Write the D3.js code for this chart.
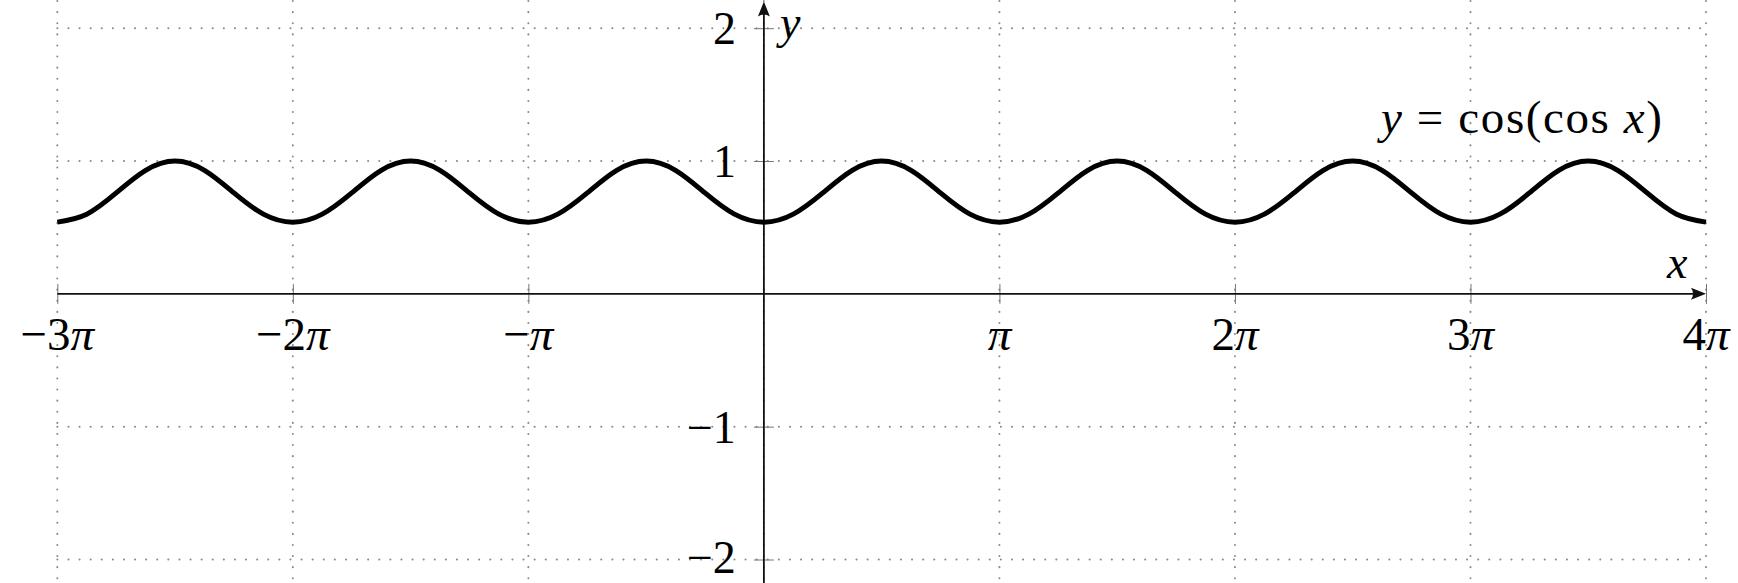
<!DOCTYPE html>
<html>
<head>
<meta charset="utf-8">
<script src="https://cdn.jsdelivr.net/npm/d3@7"></script>
<style>
  body { margin: 0; background: #fff; }
  svg { display: block; }
  text { font-family: "Liberation Serif", "DejaVu Serif", serif; fill: #000; }
</style>
</head>
<body>
<svg id="graph"></svg>
<script>
// x positions in units of pi/8
var xEighthPi = [-24,-23,-22,-21,-20,-19,-18,-17,-16,-15,-14,-13,-12,-11,-10,-9,-8,-7,-6,-5,-4,-3,-2,-1,
                 0,1,2,3,4,5,6,7,8,9,10,11,12,13,14,15,16,17,18,19,20,21,22,23,24,25,26,27,28,29,30,31,32];
// y values at those positions
var yValues = [0.54,0.60,0.76,0.93,1.00,0.93,0.76,0.60,
               0.54,0.60,0.76,0.93,1.00,0.93,0.76,0.60,
               0.54,0.60,0.76,0.93,1.00,0.93,0.76,0.60,
               0.54,0.60,0.76,0.93,1.00,0.93,0.76,0.60,
               0.54,0.60,0.76,0.93,1.00,0.93,0.76,0.60,
               0.54,0.60,0.76,0.93,1.00,0.93,0.76,0.60,
               0.54,0.60,0.76,0.93,1.00,0.93,0.76,0.60,
               0.54];

var xTickValues = [-3,-2,-1,0,1,2,3,4];          // multiples of pi
var xTickLabels = ["\u22123", "\u22122", "\u2212", "", "", "2", "3", "4"];
var yTickValues = [-2,-1,1,2];
var yTickLabels = ["\u22122", "\u22121", "1", "2"];
var curveLabel = ["y", " = cos(cos ", "x", ")"];

var screen = { width: 1738, height: 583 };

var svg = d3.select("#graph")
    .attr("width", screen.width)
    .attr("height", screen.height);

var xScale = d3.scaleLinear()
    .domain([-3 * Math.PI, 4 * Math.PI])
    .range([57.3, 1706]);
var yScale = d3.scaleLinear()
    .domain([-2, 2])
    .range([559.5, 28.2]);

var x0 = xScale(0), y0 = yScale(0);

// grid
var grid = svg.append("g");
grid.selectAll("line.v")
    .data(xTickValues)
    .enter()
    .append("line")
    .attr("x1", function(d){ return xScale(d * Math.PI); })
    .attr("x2", function(d){ return xScale(d * Math.PI); })
    .attr("y1", 1)
    .attr("y2", screen.height)
    .attr("stroke", "#8a8a8a")
    .attr("stroke-width", 2)
    .attr("stroke-linecap", "round")
    .attr("stroke-dasharray", "0.1 11");
grid.selectAll("line.h")
    .data([-2,-1,1,2])
    .enter()
    .append("line")
    .attr("x1", xScale.range()[0])
    .attr("x2", xScale.range()[1])
    .attr("y1", function(d){ return yScale(d); })
    .attr("y2", function(d){ return yScale(d); })
    .attr("stroke", "#8a8a8a")
    .attr("stroke-width", 2)
    .attr("stroke-linecap", "round")
    .attr("stroke-dasharray", "0.1 11");

// x axis
var xAxis = d3.axisBottom(xScale)
    .tickValues(xTickValues.filter(function(d){ return d != 0; }).map(function(d){ return d * Math.PI; }))
    .tickSize(10)
    .tickPadding(0)
    .tickFormat("");
var gx = svg.append("g")
    .attr("transform", "translate(0," + y0 + ")")
    .call(xAxis);
gx.select(".domain").remove();
gx.selectAll(".tick line")
    .attr("y1", -10)
    .attr("y2", 10)
    .attr("stroke", "#777")
    .attr("stroke-width", 1);

svg.append("line")
    .attr("x1", xScale.range()[0])
    .attr("x2", xScale.range()[1] - 4)
    .attr("y1", y0)
    .attr("y2", y0)
    .attr("stroke", "#111")
    .attr("stroke-width", 1.8);

var xLabels = svg.append("g");
xTickValues.forEach(function(d, i){
    if (d == 0) return;
    var t = xLabels.append("text")
        .attr("x", xScale(d * Math.PI))
        .attr("y", y0 + 56)
        .attr("text-anchor", "middle")
        .attr("font-size", 47);
    t.append("tspan").text(xTickLabels[i]);
    t.append("tspan").attr("font-style", "italic").text("\u03c0");
});

// y axis
var yAxis = d3.axisLeft(yScale)
    .tickValues(yTickValues)
    .tickSize(10)
    .tickFormat("");
var gy = svg.append("g")
    .attr("transform", "translate(" + x0 + ",0)")
    .call(yAxis);
gy.select(".domain").remove();
gy.selectAll(".tick line")
    .attr("x1", -10)
    .attr("x2", 10)
    .attr("stroke", "#777")
    .attr("stroke-width", 1);

svg.append("line")
    .attr("x1", x0)
    .attr("x2", x0)
    .attr("y1", screen.height)
    .attr("y2", 6)
    .attr("stroke", "#111")
    .attr("stroke-width", 1.8);

svg.append("g").selectAll("text")
    .data(yTickValues)
    .enter()
    .append("text")
    .attr("x", x0 - 28)
    .attr("y", function(d){ return yScale(d) + (d == -2 ? 13 : 16); })
    .attr("text-anchor", "end")
    .attr("font-size", 46)
    .text(function(d, i){ return yTickLabels[i]; });

// arrow heads
var arrow = d3.path();
var ax = xScale.range()[1];
arrow.moveTo(ax, y0);
arrow.lineTo(ax - 15, y0 - 6);
arrow.quadraticCurveTo(ax - 11, y0, ax - 15, y0 + 6);
arrow.closePath();
arrow.moveTo(x0, 1.5);
arrow.lineTo(x0 - 6, 16.5);
arrow.quadraticCurveTo(x0, 12.5, x0 + 6, 16.5);
arrow.closePath();
svg.append("path")
    .attr("d", arrow.toString())
    .attr("fill", "#111");

svg.append("text")
    .attr("x", 1667)
    .attr("y", 278)
    .attr("font-size", 46)
    .attr("font-style", "italic")
    .text("x");
svg.append("text")
    .attr("x", 780)
    .attr("y", 38)
    .attr("font-size", 46)
    .attr("font-style", "italic")
    .text("y");

// the curve
var points = xEighthPi.map(function(q, i){ return [q * Math.PI / 8, yValues[i]]; });
var line = d3.line()
    .x(function(d){ return xScale(d[0]); })
    .y(function(d){ return yScale(d[1]); })
    .curve(d3.curveNatural);
svg.append("path")
    .datum(points)
    .attr("d", line)
    .attr("fill", "none")
    .attr("stroke", "#000")
    .attr("stroke-width", 5)
    .attr("stroke-linejoin", "round");

var eq = svg.append("text")
    .attr("x", 1381)
    .attr("y", 133)
    .attr("font-size", 47)
    .attr("textLength", 281)
    .attr("lengthAdjust", "spacing");
curveLabel.forEach(function(s, i){
    eq.append("tspan")
        .attr("font-style", i % 2 == 0 ? "italic" : "normal")
        .attr("xml:space", "preserve")
        .text(s);
});
</script>
</body>
</html>
